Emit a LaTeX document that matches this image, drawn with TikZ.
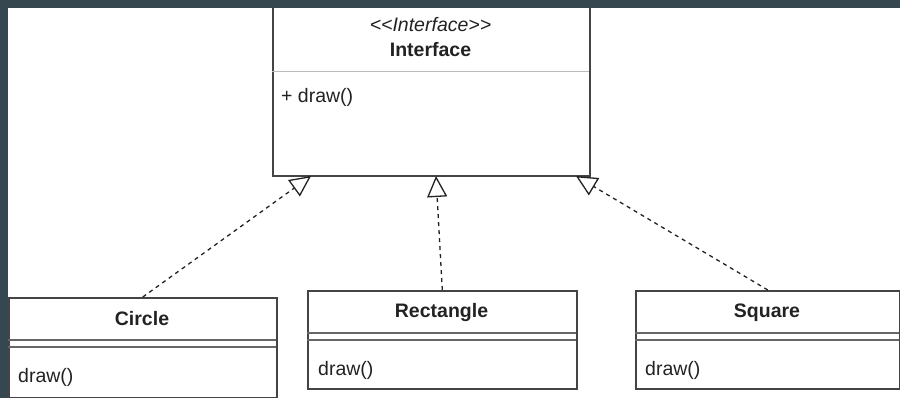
\documentclass[tikz,border=0pt]{standalone}
\usepackage{fontspec}
\setmainfont{Liberation Sans}
\usetikzlibrary{arrows.meta}
\definecolor{band}{HTML}{37474F}
\definecolor{edge}{HTML}{444444}
\definecolor{ink}{HTML}{222222}
\definecolor{sep}{HTML}{666666}
\definecolor{lightsep}{HTML}{BBBBBB}
\tikzset{
  classbox/.style={draw=edge, line width=1.6pt, fill=white, inner sep=0pt, anchor=north west},
  title/.style={font=\fontsize{19.5}{22}\selectfont\bfseries, text=ink, inner sep=0pt},
  member/.style={font=\fontsize{19.5}{22}\selectfont, text=ink, inner sep=0pt, anchor=west},
  stereo/.style={font=\fontsize{19.5}{22}\selectfont\itshape, text=ink, inner sep=0pt},
  realize/.style={draw=ink, line width=1.3pt, dash pattern=on 4pt off 4pt,
    -{Triangle[open, length=21pt, width=20pt, line width=1.3pt]}},
  dbl/.style={draw=sep, line width=2pt},
}
\begin{document}
\begin{tikzpicture}[x=1pt, y=-1pt]
\useasboundingbox (0,0) rectangle (900,398);
\fill[white] (0,0) rectangle (900,398);

% Interface
\node[classbox, minimum width=317pt, minimum height=169pt] (iface) at (272,6) {};
\draw[lightsep, line width=1pt] (272,72) -- (589,72);
\node[stereo] (st) at (430.5,25) {{<}{<}Interface{>}{>}};
\node[title] (it) at (430.5,50) {Interface};
\node[member] (im) at (281,97) {+ draw()};

\fill[band] (0,0) rectangle (900,8);
\fill[band] (0,0) rectangle (8,398);

% Circle
\node[classbox, minimum width=268pt, minimum height=100pt] (circle) at (8,297) {};
\draw[dbl] (8,340) -- (276,340);
\draw[dbl] (8,347) -- (276,347);
\node[title] (ct) at (142,319) {Circle};
\node[member] (cm) at (18,377) {draw()};

% Rectangle
\node[classbox, minimum width=269pt, minimum height=98pt] (rect) at (307,290) {};
\draw[dbl] (307,333) -- (576,333);
\draw[dbl] (307,340) -- (576,340);
\node[title] (rt) at (441.5,313) {Rectangle};
\node[member] (rm) at (318,370) {draw()};

% Square
\node[classbox, minimum width=264pt, minimum height=98pt] (square) at (635,290) {};
\draw[dbl] (635,333) -- (899,333);
\draw[dbl] (635,340) -- (899,340);
\node[title] (sqt) at (767,313) {Square};
\node[member] (sqm) at (645,370) {draw()};

% targets on interface bottom
\coordinate (t1) at (311,176);
\coordinate (t2) at (436,176);
\coordinate (t3) at (576,176);

\draw[realize] (circle.north) -- (t1);
\draw[realize] (rect.north) -- (t2);
\draw[realize] (square.north) -- (t3);
\end{tikzpicture}
\end{document}
